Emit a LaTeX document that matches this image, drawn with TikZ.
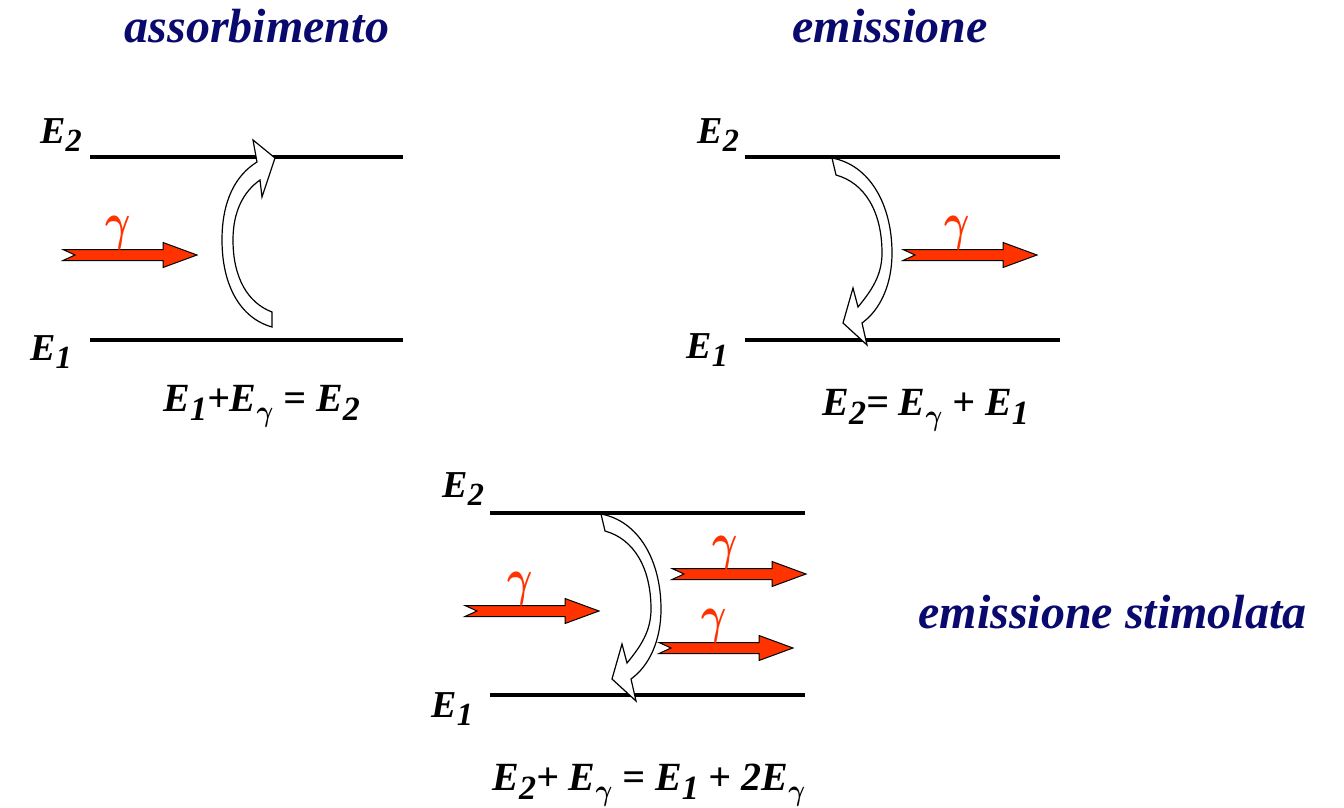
\documentclass[tikz,border=0pt]{standalone}
\usepackage{fontspec}
\setmainfont{Liberation Serif}
\usepackage{graphicx}
\definecolor{navy}{RGB}{10,10,110}
\definecolor{phot}{RGB}{255,51,0}
\newcommand{\lo}[1]{\raisebox{-0.5ex}{\scalebox{0.85}{#1}}}
\newcommand{\gsub}{\raisebox{-0.55ex}{\scalebox{0.62}[0.72]{\boldmath$\gamma$}}}
\newcommand{\gam}{\scalebox{0.78}[1.05]{\boldmath$\gamma$}}
\tikzset{
  level/.style={line width=2pt},
  title/.style={font=\fontsize{24}{28}\selectfont\bfseries\itshape, text=navy, inner sep=0pt},
  elabel/.style={font=\fontsize{19}{21}\selectfont\bfseries\itshape, inner sep=0pt, anchor=base west},
  eqn/.style={font=\fontsize{20}{22}\selectfont\bfseries\itshape, inner sep=0pt, anchor=base west},
  gam/.style={font=\fontsize{25}{27}\selectfont, text=phot, inner sep=0pt, anchor=base},
  photonbody/.style={fill=phot, draw=black, line width=0.5pt, line join=miter},
  transbody/.style={fill=white, draw=black, line width=0.6pt, line join=miter},
  photon arrow/.pic={
    \path[photonbody] (0,-5.5) -- (100,-5.5) -- (100,-12.5) -- (134,0) -- (100,12.5) -- (100,5.5) -- (0,5.5) -- (12,0) -- cycle;
  },
  down trans/.pic={
    \path[transbody] (832,158) .. controls (870,165) and (892,205) .. (892,253)
      .. controls (892,285) and (880,310) .. (862,323)
      -- (867,345) -- (843,323) -- (853,288) -- (858,307)
      .. controls (872,290) and (882,275) .. (882,253)
      .. controls (882,212) and (865,183) .. (836,175) -- cycle;
  }
}
\begin{document}
\begin{tikzpicture}[x=0.5pt,y=-0.5pt]
\useasboundingbox (0,0) rectangle (1344,808);

% titles
\node[title, anchor=base] (t1) at (257,43) {assorbimento};
\node[title, anchor=base] (t2) at (890,43) {emissione};
\node[title, anchor=base west] (t3) at (918,628) {emissione stimolata};

% ---------- panel 1: absorption ----------
\draw[level] (90,157) -- (403,157);
\draw[level] (90,340) -- (403,340);
\node[elabel] (a2) at (40,143) {E\lo{2}};
\node[elabel] (a1) at (30,360) {E\lo{1}};
\path[transbody] (272,327) .. controls (240,318) and (222,285) .. (222,240)
  .. controls (222,200) and (236,175) .. (257,162)
  -- (253,140) -- (275,158) -- (262,197) -- (260,180)
  .. controls (243,192) and (233,212) .. (233,240)
  .. controls (233,278) and (248,303) .. (272,312) -- cycle;
\pic at (63,255) {photon arrow};
\node[gam] (g1) at (118,239) {\gam};
\node[eqn] (q1) at (163,411) {E\lo{1}+E\gsub{} = E\lo{2}};

% ---------- panel 2: emission ----------
\draw[level] (745,157) -- (1060,157);
\draw[level] (745,340) -- (1060,340);
\node[elabel] (b2) at (697,143) {E\lo{2}};
\node[elabel] (b1) at (686,358) {E\lo{1}};
\pic at (0,0) {down trans};
\pic at (903,255) {photon arrow};
\node[gam] (g2) at (957,239) {\gam};
\node[eqn] (q2) at (822,415) {E\lo{2}= E\gsub{} + E\lo{1}};

% ---------- panel 3: stimulated emission ----------
\draw[level] (490,513) -- (805,513);
\draw[level] (490,695) -- (805,695);
\node[elabel] (c2) at (442,497) {E\lo{2}};
\node[elabel] (c1) at (431,717) {E\lo{1}};
\pic at (-231,356) {down trans};
\pic at (465,611) {photon arrow};
\node[gam] (g3) at (520,595) {\gam};
\pic at (672,574) {photon arrow};
\node[gam] (g4) at (725,559) {\gam};
\pic at (659,648) {photon arrow};
\node[gam] (g5) at (714,632) {\gam};
\node[eqn] (q3) at (492,790) {E\lo{2}+ E\gsub{} = E\lo{1} + 2E\gsub};
\end{tikzpicture}
\end{document}
